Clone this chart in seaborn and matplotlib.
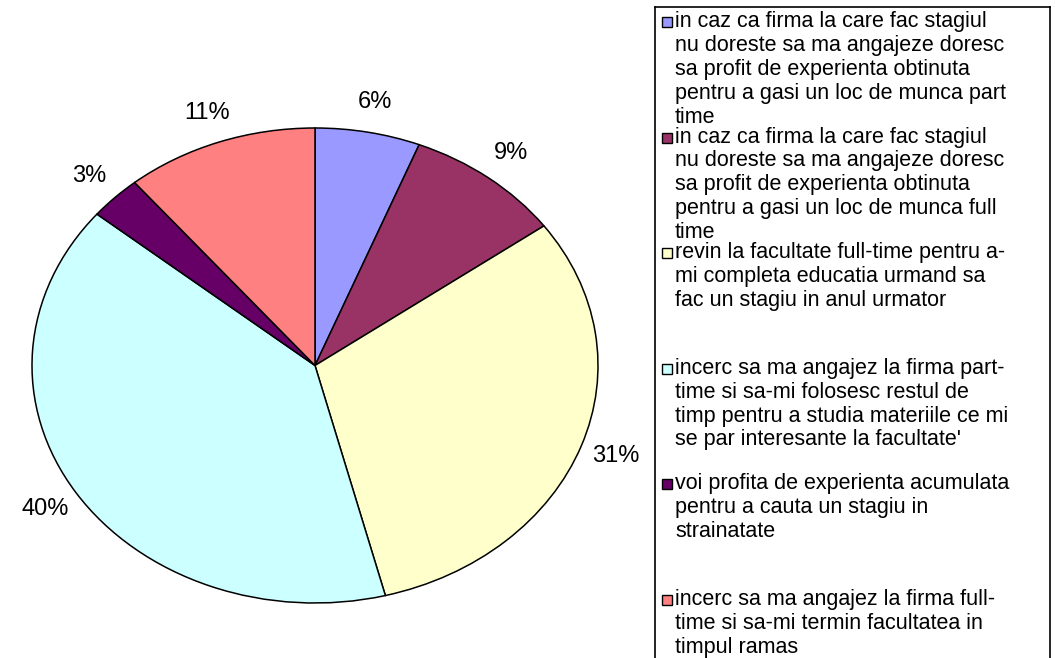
import matplotlib.pyplot as plt
import matplotlib.patches as mpatches
import seaborn as sns

sns.set_style("white")
plt.rcParams['font.family'] = ['Liberation Sans', 'DejaVu Sans']

# date
procente = [6, 9, 31, 40, 3, 11]
culori = ['#9999FF', '#993366', '#FFFFCC', '#CCFFFF', '#660066', '#FF8080']
optiuni = [
    'in caz ca firma la care fac stagiul\nnu doreste sa ma angajeze doresc\nsa profit de experienta obtinuta\npentru a gasi un loc de munca part\ntime',
    'in caz ca firma la care fac stagiul\nnu doreste sa ma angajeze doresc\nsa profit de experienta obtinuta\npentru a gasi un loc de munca full\ntime',
    'revin la facultate full-time pentru a-\nmi completa educatia urmand sa\nfac un stagiu in anul urmator',
    'incerc sa ma angajez la firma part-\ntime si sa-mi folosesc restul de\ntimp pentru a studia materiile ce mi\nse par interesante la facultate\'',
    'voi profita de experienta acumulata\npentru a cauta un stagiu in\nstrainatate',
    'incerc sa ma angajez la firma full-\ntime si sa-mi termin facultatea in\ntimpul ramas',
]

fig = plt.figure(figsize=(10.55, 6.58), dpi=100)
fig.patch.set_facecolor('white')

# pie (eliptic, ca in Excel)
ax = fig.add_axes([32 / 1055, 55 / 658, 566 / 1055, 475 / 658])
ax.pie(procente, colors=culori, startangle=90, counterclock=False,
       autopct='%1.0f%%', pctdistance=1.13,
       wedgeprops=dict(edgecolor='black', linewidth=1.1),
       textprops=dict(fontsize=17, color='black'))
ax.set_aspect('auto')
ax.set_xlim(-1, 1)
ax.set_ylim(-1, 1)
ax.axis('off')

# legenda desenata manual (coordonate = pixeli figura)
lg = fig.add_axes([655 / 1055, -10 / 658, 395 / 1055, 661 / 658])
lg.set_xlim(655, 1050)
lg.set_ylim(668, 7)
lg.set_xticks([])
lg.set_yticks([])
for s in lg.spines.values():
    s.set_visible(True)
    s.set_color('black')
    s.set_linewidth(1.2)

pas = 115.6
for i, (txt, c) in enumerate(zip(optiuni, culori)):
    yt = 11 + i * pas
    lg.add_patch(mpatches.Rectangle((662, yt + 6), 10, 10, facecolor=c,
                                    edgecolor='black', linewidth=1))
    lg.text(675, yt, txt, fontsize=15.5, va='top', ha='left',
            linespacing=1.18, color='black')

fig.savefig('out.png', dpi=100)
